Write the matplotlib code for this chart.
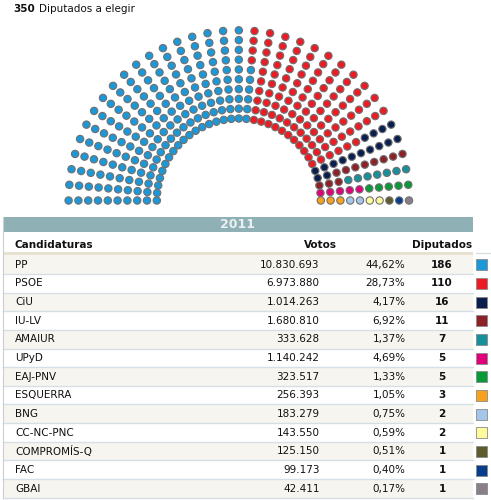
import numpy as np
import matplotlib
matplotlib.use("Agg")
import matplotlib.pyplot as plt
from matplotlib.patches import Rectangle

# Election results 2011 (Congreso de los Diputados)
parties = ["PP", "PSOE", "CiU", "IU-LV", "AMAIUR", "UPyD", "EAJ-PNV",
           "ESQUERRA", "BNG", "CC-NC-PNC", "COMPROMÍS-Q", "FAC", "GBAI"]
votes = [10830693, 6973880, 1014263, 1680810, 333628, 1140242, 323517,
         256393, 183279, 143550, 125150, 99173, 42411]
pct = [44.62, 28.73, 4.17, 6.92, 1.37, 4.69, 1.33,
       1.05, 0.75, 0.59, 0.51, 0.40, 0.17]
seats = [186, 110, 16, 11, 7, 5, 5, 3, 2, 2, 1, 1, 1]
colors = ["#1b98d8", "#ec1c24", "#0b1f4f", "#8c2228", "#17909c", "#e2007a",
          "#079a36", "#f7a11f", "#a4c6e8", "#fdfb9c", "#5d5c2c", "#073e8c",
          "#8a7f88"]
total_seats = 350
year = "2011"

n_rows = 10
n_spokes = total_seats // n_rows


def fmt_votes(v):
    return f"{v:,}".replace(",", ".")


def fmt_pct(p):
    return f"{p:.2f}%".replace(".", ",")


fig = plt.figure(figsize=(4.91, 5.00), dpi=100)
ax = fig.add_axes([0, 0, 1, 1])
ax.set_xlim(0, 491)
ax.set_ylim(500, 0)
ax.axis("off")

FS = 7.5
font = "DejaVu Sans"

# --- title ---
ax.text(13, 8.5, "350", fontsize=FS, fontweight="bold", va="center",
        ha="left", family=font, color="#111111")
ax.text(39.5, 8.5, "Diputados a elegir", fontsize=FS, va="center", ha="left",
        family=font, color="#111111")

# --- hemicycle: spokes filled inner -> outer, left -> right ---
cx, cy = 238.8, 200.5
radii = 82 + 9.8 * np.arange(n_rows)
seat_colors = np.repeat(colors, seats)
xs, ys = [], []
for s in range(n_spokes):
    ang = np.pi - s * np.pi / (n_spokes - 1)
    for r in radii:
        xs.append(cx + r * np.cos(ang))
        ys.append(cy - r * np.sin(ang))
ax.scatter(xs, ys, s=28, c=list(seat_colors), edgecolors="#707070",
           linewidths=0.8, zorder=3)

# --- table ---
left, right = 3, 473
ax.add_patch(Rectangle((left, 216.7), right - left, 15.3, facecolor="#8fb1b5",
                       edgecolor="none"))
ax.text((left + right) / 2, 224.5, year, fontsize=9, fontweight="bold",
        color="#e9f0f1", ha="center", va="center", family=font)

ax.text(15, 244.5, "Candidaturas", fontsize=FS, fontweight="bold",
        ha="left", va="center", family=font, color="#111111")
ax.text(337, 244.5, "Votos", fontsize=FS, fontweight="bold",
        ha="right", va="center", family=font, color="#111111")
ax.text(472, 244.5, "Diputados", fontsize=FS, fontweight="bold",
        ha="right", va="center", family=font, color="#111111")
ax.add_patch(Rectangle((left, 252), right - left, 2.5, facecolor="#e7e1d2",
                       edgecolor="none"))
ax.plot([476, 491], [253, 253], color="#d9dde0", lw=1)

pitch = 18.66
top0 = 255.2
for i, name in enumerate(parties):
    y0 = top0 + i * pitch
    yc = y0 + pitch / 2 + 0.3
    bg = "#f7f5ef" if i % 2 == 0 else "#ffffff"
    ax.add_patch(Rectangle((left, y0), right - left, pitch, facecolor=bg,
                           edgecolor="none"))
    ax.plot([left, right], [y0 + pitch, y0 + pitch], color="#d6dee6", lw=1)
    ax.text(15, yc, name, fontsize=FS, ha="left", va="center", family=font,
            color="#111111")
    ax.text(319.5, yc, fmt_votes(votes[i]), fontsize=FS, ha="right",
            va="center", family=font, color="#111111")
    ax.text(405.5, yc, fmt_pct(pct[i]), fontsize=FS, ha="right",
            va="center", family=font, color="#111111")
    ax.text(442, yc, str(seats[i]), fontsize=FS, fontweight="bold",
            ha="center", va="center", family=font, color="#111111")
    ax.add_patch(Rectangle((476.5, yc - 5.5), 11, 11, facecolor=colors[i],
                           edgecolor="#8a8a8a", lw=0.6))
ax.plot([left, left], [216.7, top0 + len(parties) * pitch], color="#c9ced2",
        lw=0.8)

fig.savefig("out.png", dpi=100, facecolor="white")
